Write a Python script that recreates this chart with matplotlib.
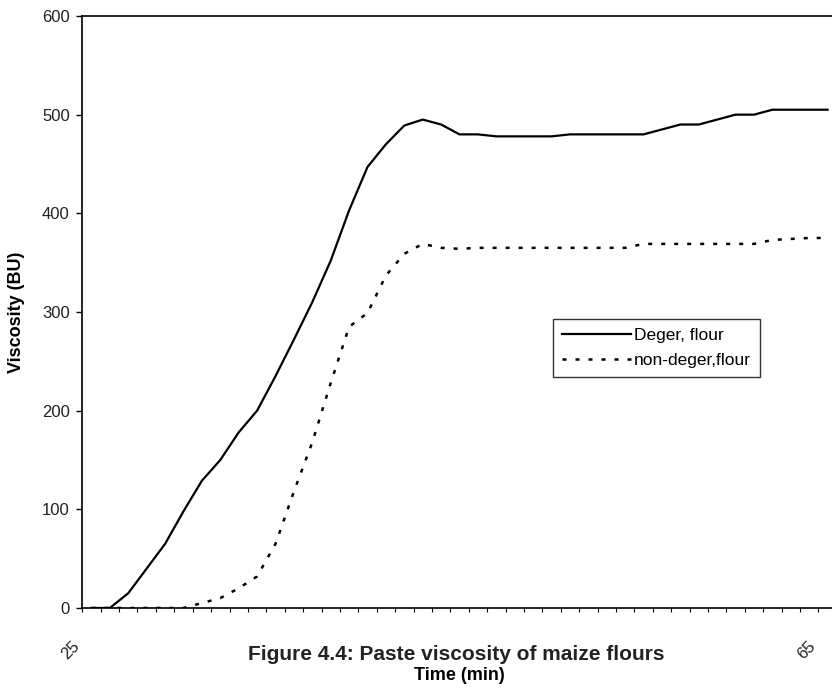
import numpy as np
import matplotlib
matplotlib.use("Agg")
import matplotlib.pyplot as plt

plt.rcParams['font.family'] = ['Liberation Sans', 'DejaVu Sans']

# time in minutes (points sit at the middle of each one-minute category)
time_min = np.arange(25.5, 66.0, 1.0)

deger_flour = [0, 0, 15, 40, 65, 98, 129, 150, 178, 200,
               235, 272, 310, 352, 403, 447, 470, 489, 495, 490,
               480, 480, 478, 478, 478, 478, 480, 480, 480, 480,
               480, 485, 490, 490, 495, 500, 500, 505, 505, 505, 505]

nondeger_flour = [0, 0, 0, 0, 0, 0, 5, 10, 20, 32,
                  65, 118, 168, 228, 285, 299, 337, 359, 369, 365,
                  364, 365, 365, 365, 365, 365, 365, 365, 365, 365,
                  369, 369, 369, 369, 369, 369, 369, 373, 374, 375, 375]

x_labels = {25: "25", 65: "65"}

fig = plt.figure(figsize=(8.32, 6.89), dpi=100)
ax = fig.add_axes([0.0989, 0.1176, 0.9011, 0.8592])

ax.plot(time_min, deger_flour, color="black", lw=1.6, label="Deger, flour")
ax.plot(time_min, nondeger_flour, color="black", lw=1.8,
        linestyle=(0, (1.6, 3.6)), label="non-deger,flour")

ax.set_xlim(25, 65.74)
ax.set_ylim(0, 600)
ax.set_yticks(np.arange(0, 601, 100))
ax.set_xticks(list(x_labels.keys()))
ax.set_xticklabels(list(x_labels.values()), rotation=45, ha="right", va="top")
ax.set_xticks(np.arange(25, 66, 1), minor=True)

ax.tick_params(axis="y", direction="out", length=4, width=1, labelsize=12,
               labelcolor="#222222", pad=5)
ax.tick_params(axis="x", which="both", direction="out", length=3, width=0.8)
ax.tick_params(axis="x", which="major", labelsize=12, labelcolor="#222222", pad=19)

ax.spines["right"].set_visible(False)
for s in ["top", "left", "bottom"]:
    ax.spines[s].set_linewidth(1.2)

ax.set_ylabel("Viscosity (BU)", fontsize=13, fontweight="bold", labelpad=12)

leg = ax.legend(loc="upper left", bbox_to_anchor=(0.6283, 0.4882), borderaxespad=0,
                fontsize=12.5, frameon=True, fancybox=False, edgecolor="black",
                handlelength=4.0, handletextpad=0.15, labelspacing=0.6,
                borderpad=0.5)
leg.get_frame().set_linewidth(1.0)

fig.text(0.548, 1 - 654 / 689, "Figure 4.4: Paste viscosity of maize flours",
         ha="center", va="center", fontsize=15, fontweight="bold", color="#222222")
fig.text(0.552, 1 - 676 / 689, "Time (min)",
         ha="center", va="center", fontsize=13, fontweight="bold")

fig.savefig("out.png", dpi=100)
